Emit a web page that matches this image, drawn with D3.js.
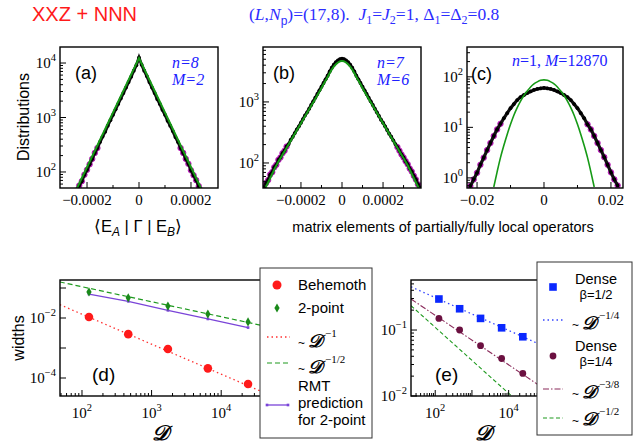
<!DOCTYPE html>
<html><head><meta charset="utf-8">
<script src="https://cdn.jsdelivr.net/npm/d3@7"></script>
<style>body{margin:0;background:#fff}svg{display:block}</style>
</head><body>
<svg id="c" width="641" height="445"></svg>
<script>
// ---------------- DATA ----------------
// panel (a): histogram, bins of width 1e-5 starting at -2.4e-4, log10(counts)
const aBinStart = -0.00024, aBinStep = 0.00001;
const aLogCounts = [1.66,1.75,1.83,1.95,2.04,2.14,2.24,2.35,2.44,2.55,2.65,2.74,2.85,2.95,3.05,3.15,3.25,3.35,3.45,3.55,3.65,3.75,3.86,3.96,
  4.10,3.97,3.86,3.76,3.65,3.55,3.45,3.34,3.25,3.14,3.05,2.94,2.85,2.75,2.64,2.55,2.44,2.35,2.24,2.15,2.03,1.94,1.85,1.74,1.66];
const aFitX = [-0.000245, 0, 0.000245];
const aFitLog = [1.64, 4.09, 1.64];
// panel (b)
const bBinStart = -0.00038, bBinStep = 0.00001;
const bLogCounts = [1.60,1.67,1.72,1.81,1.85,1.93,1.97,2.05,2.09,2.16,2.20,2.27,2.31,2.38,2.43,2.49,2.55,2.60,2.66,2.72,2.78,2.83,2.89,2.95,3.01,3.07,3.13,3.19,3.25,3.31,3.37,3.43,3.50,3.56,3.61,3.65,3.68,3.70,
  3.71,
  3.70,3.68,3.65,3.61,3.56,3.50,3.43,3.37,3.31,3.25,3.19,3.13,3.07,3.01,2.95,2.89,2.83,2.77,2.71,2.66,2.60,2.54,2.48,2.43,2.37,2.31,2.26,2.20,2.14,2.09,2.03,1.98,1.91,1.86,1.79,1.73,1.65,1.59];
const bFitX = [-0.00038,-0.00036,-0.00032,-0.00028,-0.00024,-0.0002,-0.00016,-0.00012,-0.00008,-0.00004,0,0.00004,0.00008,0.00012,0.00016,0.0002,0.00024,0.00028,0.00032,0.00036,0.00038];
const bFitLog = [1.55,1.68,1.96,2.19,2.42,2.65,2.88,3.11,3.35,3.58,3.67,3.58,3.35,3.11,2.88,2.65,2.42,2.19,1.96,1.68,1.55];
// panel (c)
const cBinStart = -0.022, cBinStep = 0.001;
const cLogCounts = [-0.16,-0.03,0.10,0.26,0.40,0.55,0.69,0.83,0.96,1.07,1.18,1.28,1.38,1.46,1.54,1.60,1.64,1.68,1.71,1.74,1.76,1.77,
  1.78,
  1.77,1.76,1.74,1.71,1.68,1.64,1.60,1.54,1.46,1.38,1.28,1.18,1.06,0.96,0.83,0.69,0.55,0.41,0.26,0.11,-0.03,-0.15];
const cFitStart = -0.015, cFitStep = 0.001;
const cFitLog = [-0.18,0.12,0.40,0.64,0.86,1.06,1.24,1.39,1.52,1.63,1.72,1.80,1.86,1.90,1.93,1.94,1.93,1.90,1.86,1.80,1.72,1.63,1.52,1.39,1.24,1.06,0.86,0.64,0.40,0.12,-0.18];
// panel (d)
const dimD = [126, 462, 1716, 6435, 24310];
const behemoth = [0.0108, 0.0029, 0.00093, 0.00021, 0.000063];
const twoPoint = [0.074, 0.047, 0.025, 0.0135, 0.0074];
const rmtPred = [0.063, 0.036, 0.018, 0.0093, 0.0048];
const guideInvD = [[48, 0.0279], [70800, 0.000019]];
const guideInvSqrtD = [[48, 0.159], [70800, 0.00415]];
// panel (e)
const dense12 = [0.295, 0.21, 0.15, 0.108, 0.079];
const dense14 = [0.15, 0.10, 0.058, 0.037, 0.022];
const guideQuarter = [[21.9, 0.452], [100000, 0.0556]];
const guideThreeEighth = [[21.9, 0.295], [100000, 0.0125]];
const guideHalfE = [[21.9, 0.234], [100000, 0.00347]];

// ---------------- DRAW ----------------
const SANS = "'Liberation Sans', Arial, Helvetica, sans-serif";
const SERIF = "'Liberation Serif', 'Times New Roman', serif";
const SD = "\u{1D49F}";
const svg = d3.select('#c');
const defs = svg.append('defs');

function rich(g, x, y, parts, o = {}) {
  const t = g.append('text').attr('x', x).attr('y', y)
    .attr('font-family', o.ff || SANS).attr('font-size', o.fs || 15)
    .attr('fill', o.fill || '#000').attr('text-anchor', o.anchor || 'start');
  if (o.it) t.attr('font-style', 'italic');
  let cur = 0;
  parts.forEach(p => {
    const ts = t.append('tspan').text(p.t);
    const off = p.off || 0;
    if (off !== cur) { ts.attr('dy', off - cur); cur = off; }
    if (p.dx) ts.attr('dx', p.dx);
    if (p.fs) ts.attr('font-size', p.fs);
    if (p.it) ts.attr('font-style', 'italic');
    if (p.nit) ts.attr('font-style', 'normal');
    if (p.fw) ts.attr('font-weight', p.fw);
    if (p.ff) ts.attr('font-family', p.ff);
  });
  return t;
}
function pow10(g, x, y, exp, anchor) {
  return rich(g, x, y, [{t: '10'}, {t: exp, fs: 10.5, off: -7}], {ff: SERIF, fs: 15, anchor});
}
function clip(id, l, t, r, b) {
  defs.append('clipPath').attr('id', id).append('rect').attr('x', l).attr('y', t).attr('width', r - l).attr('height', b - t);
  return `url(#${id})`;
}
function frame(g, o) {
  g.append('rect').attr('x', o.l).attr('y', o.t).attr('width', o.r - o.l).attr('height', o.b - o.t)
    .attr('fill', 'none').attr('stroke', '#000').attr('stroke-width', 1.4);
}
function yLogTicks(g, y, o, labeled, minor) {
  const [lo, hi] = y.domain().map(Math.log10);
  for (let d = Math.floor(lo); d <= Math.ceil(hi); d++) {
    if (d >= lo - 1e-9 && d <= hi + 1e-9) {
      g.append('line').attr('x1', o.l).attr('x2', o.l + 6).attr('y1', y(10 ** d)).attr('y2', y(10 ** d)).attr('stroke', '#000');
      if (labeled.includes(d)) pow10(g, o.l - 4, y(10 ** d) + 5, d < 0 ? '\u2212' + (-d) : String(d), 'end');
    }
    if (minor) for (let m = 2; m <= 9; m++) {
      const v = m * 10 ** d;
      if (Math.log10(v) > lo && Math.log10(v) < hi)
        g.append('line').attr('x1', o.l).attr('x2', o.l + 3).attr('y1', y(v)).attr('y2', y(v)).attr('stroke', '#000');
    }
  }
}

function histPanel(o) {
  const g = svg.append('g');
  const x = d3.scaleLinear().domain(o.xDom).range([o.l, o.r]);
  const y = d3.scaleLog().domain([10 ** o.yLog[0], 10 ** o.yLog[1]]).range([o.b, o.t]);
  const gd = g.append('g').attr('clip-path', clip('cl' + o.id, o.l, o.t, o.r, o.b));
  const pts = o.vals.map((v, i) => ({x: o.start + i * o.step, y: 10 ** v, lv: v}));
  const line = d3.line().x(d => x(d.x)).y(d => y(d.y));
  // magenta markers show up on the noisy tails
  gd.selectAll('circle.m').data(pts.filter(d => d.lv < o.tailBelow)).join('circle').attr('class', 'm')
    .attr('cx', d => x(d.x)).attr('cy', d => y(d.y)).attr('r', 2.8)
    .attr('fill', '#d020d0').attr('stroke', '#a000a0').attr('stroke-width', 0.6);
  gd.append('path').datum(pts).attr('d', line).attr('fill', 'none').attr('stroke', '#111').attr('stroke-width', o.lw);
  gd.selectAll('circle.k').data(pts).join('circle').attr('class', 'k')
    .attr('cx', d => x(d.x)).attr('cy', d => y(d.y)).attr('r', 1.9).attr('fill', '#000');
  const fit = o.fitX.map((v, i) => ({x: v, y: 10 ** o.fitLog[i]}));
  gd.append('path').datum(fit).attr('d', d3.line().x(d => x(d.x)).y(d => y(d.y)).curve(o.curve || d3.curveLinear))
    .attr('fill', 'none').attr('stroke', '#169a16').attr('stroke-width', o.fw);
  frame(g, o);
  yLogTicks(g, y, o, o.yLab, true);
  o.xMajor.forEach((v, i) => {
    g.append('line').attr('x1', x(v)).attr('x2', x(v)).attr('y1', o.b).attr('y2', o.b - 6).attr('stroke', '#000');
    rich(g, x(v), o.b + 17, [{t: o.xLabels[i]}], {ff: SERIF, fs: 15, anchor: 'middle'});
  });
  o.xMinor.forEach(v => g.append('line').attr('x1', x(v)).attr('x2', x(v)).attr('y1', o.b).attr('y2', o.b - 3).attr('stroke', '#000'));
  return g;
}

histPanel({id: 'a', l: 60, t: 47, r: 218, b: 188, xDom: [-0.000304, 0.000304], yLog: [1.706, 4.294],
  start: aBinStart, step: aBinStep, vals: aLogCounts, fitX: aFitX, fitLog: aFitLog, lw: 3, fw: 2, tailBelow: 2.45,
  yLab: [2, 3, 4], xMajor: [-0.0002, 0, 0.0002], xLabels: ['\u22120.0002', '0', '0.0002'], xMinor: [-0.0001, 0.0001]});
histPanel({id: 'b', l: 263, t: 47, r: 421, b: 188, xDom: [-0.000385, 0.000385], yLog: [1.59, 3.90],
  start: bBinStart, step: bBinStep, vals: bLogCounts, fitX: bFitX, fitLog: bFitLog, lw: 3, fw: 2, curve: d3.curveMonotoneX, tailBelow: 2.3,
  yLab: [2, 3], xMajor: [-0.0002, 0, 0.0002], xLabels: ['\u22120.0002', '0', '0.0002'], xMinor: [-0.0003, -0.0001, 0.0001, 0.0003]});
const cFitX = cFitLog.map((v, i) => cFitStart + i * cFitStep);
histPanel({id: 'c', l: 467, t: 47, r: 623, b: 188, xDom: [-0.023, 0.0236], yLog: [-0.2, 2.59],
  start: cBinStart, step: cBinStep, vals: cLogCounts, fitX: cFitX, fitLog: cFitLog, lw: 3.2, fw: 1.6, curve: d3.curveMonotoneX, tailBelow: 1.1,
  yLab: [0, 1, 2], xMajor: [-0.02, 0, 0.02], xLabels: ['\u22120.02', '0', '0.02'], xMinor: [-0.01, 0.01]});

// top titles
rich(svg, 32, 21, [{t: 'XXZ + NNN'}], {fs: 20, fill: '#ff1a1a'});
rich(svg, 249, 20, [
  {t: '('}, {t: 'L', it: 1}, {t: ','}, {t: 'N', it: 1}, {t: 'p', off: 5, fs: 12, ff: SANS}, {t: ')=(17,8).  ', off: 0},
  {t: 'J', it: 1}, {t: '1', off: 4, fs: 12}, {t: '=', off: 0}, {t: 'J', it: 1}, {t: '2', off: 4, fs: 12}, {t: '=1, \u0394', off: 0},
  {t: '1', off: 4, fs: 12}, {t: '=\u0394', off: 0}, {t: '2', off: 4, fs: 12}, {t: '=0.8', off: 0}
], {ff: SERIF, fs: 17.5, fill: '#2d2dff'}).attr('xml:space', 'preserve');

// panel labels
[['(a)', 75, 79], ['(b)', 273, 79], ['(c)', 471, 80]].forEach(([s, x, y]) => rich(svg, x, y, [{t: s}], {fs: 18}));
rich(svg, 172, 68, [{t: 'n=8'}], {ff: SERIF, fs: 16, it: 1, fill: '#2020ff'});
rich(svg, 172, 85, [{t: 'M=2'}], {ff: SERIF, fs: 16, it: 1, fill: '#2020ff'});
rich(svg, 377, 68, [{t: 'n=7'}], {ff: SERIF, fs: 16, it: 1, fill: '#2020ff'});
rich(svg, 377, 85, [{t: 'M=6'}], {ff: SERIF, fs: 16, it: 1, fill: '#2020ff'});
rich(svg, 512, 66, [{t: 'n', it: 1}, {t: '=1, ', nit: 1}, {t: 'M', it: 1}, {t: '=12870', nit: 1}], {ff: SERIF, fs: 16, fill: '#2020ff'});

rich(svg, 0, 0, [{t: 'Distributions'}], {fs: 16, anchor: 'middle'}).attr('transform', 'translate(29,117) rotate(-90)');
rich(svg, 138, 232, [{t: '\u27E8E'}, {t: 'A', it: 1, fs: 12, off: 4}, {t: ' | \u0393 | E', off: 0}, {t: 'B', it: 1, fs: 12, off: 4}, {t: '\u27E9', off: 0}], {fs: 16.5, anchor: 'middle'});
rich(svg, 443, 232, [{t: 'matrix elements of partially/fully local operators'}], {fs: 14.5, anchor: 'middle'});

// ---------- log-log panels ----------
function logPanel(o) {
  const g = svg.append('g');
  const x = d3.scaleLog().domain([10 ** o.xLog[0], 10 ** o.xLog[1]]).range([o.l, o.r]);
  const y = d3.scaleLog().domain([10 ** o.yLog[0], 10 ** o.yLog[1]]).range([o.b, o.t]);
  const gd = g.append('g').attr('clip-path', clip('cl' + o.id, o.l, o.t, o.r, o.b));
  frame(g, o);
  yLogTicks(g, y, o, o.yLab, o.yMinor);
  const [lo, hi] = o.xLog;
  for (let d = Math.floor(lo); d <= Math.ceil(hi); d++) {
    if (d >= lo && d <= hi) {
      g.append('line').attr('x1', x(10 ** d)).attr('x2', x(10 ** d)).attr('y1', o.b).attr('y2', o.b - 6).attr('stroke', '#000');
      if (o.xLab.includes(d)) pow10(g, x(10 ** d), o.b + 22, String(d), 'middle');
    }
    for (let m = 2; m <= 9; m++) {
      const v = m * 10 ** d;
      if (Math.log10(v) > lo && Math.log10(v) < hi)
        g.append('line').attr('x1', x(v)).attr('x2', x(v)).attr('y1', o.b).attr('y2', o.b - 3).attr('stroke', '#000');
    }
  }
  return {g, gd, x, y};
}
function guide(gd, x, y, pts, color, dash, w) {
  gd.append('path').datum(pts).attr('d', d3.line().x(d => x(d[0])).y(d => y(d[1])))
    .attr('fill', 'none').attr('stroke', color).attr('stroke-width', w || 1.2).attr('stroke-dasharray', dash);
}
const sym = (type, size) => d3.symbol().type(type).size(size)();

// panel (d)
const D = logPanel({id: 'd', l: 60, t: 280, r: 280, b: 396, xLog: [1.684, 4.845], yLog: [-4.6, -0.733],
  yLab: [-2, -4], yMinor: false, xLab: [2, 3, 4]});
guide(D.gd, D.x, D.y, guideInvD, '#ff3030', '1.5,3', 1.3);
guide(D.gd, D.x, D.y, guideInvSqrtD, '#1f9a1f', '5,3', 1.2);
D.gd.append('path').datum(dimD.map((d, i) => [d, rmtPred[i]])).attr('d', d3.line().x(d => D.x(d[0])).y(d => D.y(d[1])))
  .attr('fill', 'none').attr('stroke', '#7a44d8').attr('stroke-width', 1.3);
D.gd.selectAll('path.rm').data(dimD).join('path').attr('class', 'rm')
  .attr('transform', (d, i) => `translate(${D.x(d)},${D.y(rmtPred[i])})`).attr('d', sym(d3.symbolSquare, 7)).attr('fill', '#7a44d8');
D.gd.selectAll('path.tp').data(dimD).join('path').attr('class', 'tp')
  .attr('transform', (d, i) => `translate(${D.x(d)},${D.y(twoPoint[i])})`).attr('d', sym(d3.symbolDiamond, 24)).attr('fill', '#1a8a1a');
D.gd.selectAll('circle.bh').data(dimD).join('circle').attr('class', 'bh')
  .attr('cx', d => D.x(d)).attr('cy', (d, i) => D.y(behemoth[i])).attr('r', 4.3).attr('fill', '#ff1a1a');
rich(svg, 92, 381, [{t: '(d)'}], {fs: 19});
rich(svg, 0, 0, [{t: 'widths'}], {fs: 16, anchor: 'middle'}).attr('transform', 'translate(24,338) rotate(-90)');
rich(svg, 160, 440, [{t: SD}], {ff: SERIF, fs: 21, anchor: 'middle'}).attr('font-weight', 'bold').attr('font-style', 'italic');

// panel (e)
const E = logPanel({id: 'e', l: 411, t: 280, r: 545, b: 396, xLog: [1.34, 4.99], yLog: [-2, -0.242],
  yLab: [-1, -2], yMinor: true, xLab: [2, 4]});
guide(E.gd, E.x, E.y, guideQuarter, '#3344ff', '1.5,3', 1.3);
guide(E.gd, E.x, E.y, guideThreeEighth, '#8a2a5a', '6,2,1.5,2', 1.1);
guide(E.gd, E.x, E.y, guideHalfE, '#1f9a1f', '4,2.5', 1.1);
E.gd.selectAll('rect.sq').data(dimD).join('rect').attr('class', 'sq')
  .attr('x', d => E.x(d) - 3.8).attr('y', (d, i) => E.y(dense12[i]) - 3.8).attr('width', 7.6).attr('height', 7.6).attr('fill', '#0a28ff');
E.gd.selectAll('circle.mc').data(dimD).join('circle').attr('class', 'mc')
  .attr('cx', d => E.x(d)).attr('cy', (d, i) => E.y(dense14[i])).attr('r', 3.4).attr('fill', '#6b1040');
rich(svg, 435, 381, [{t: '(e)'}], {fs: 19});
rich(svg, 483, 440, [{t: SD}], {ff: SERIF, fs: 21, anchor: 'middle'}).attr('font-weight', 'bold').attr('font-style', 'italic');

// ---------- legends ----------
function powD(g, x, y, exp) {
  return rich(g, x, y, [{t: '~', fs: 12, ff: SANS}, {t: SD, fs: 18, fw: 'bold', it: 1, dx: 3}, {t: exp, fs: 11, off: -10, dx: 3}], {ff: SERIF, fs: 15});
}
const L1 = svg.append('g');
L1.append('rect').attr('x', 260).attr('y', 268).attr('width', 112).attr('height', 170).attr('fill', '#fff').attr('stroke', '#333').attr('stroke-width', 1);
L1.append('circle').attr('cx', 277).attr('cy', 285).attr('r', 4.5).attr('fill', '#ff1a1a');
rich(L1, 298, 290, [{t: 'Behemoth'}], {fs: 15});
L1.append('path').attr('transform', 'translate(277,308)').attr('d', sym(d3.symbolDiamond, 24)).attr('fill', '#1a8a1a');
rich(L1, 298, 313, [{t: '2-point'}], {fs: 15});
L1.append('line').attr('x1', 267).attr('x2', 290).attr('y1', 337).attr('y2', 337).attr('stroke', '#ff3030').attr('stroke-width', 1.3).attr('stroke-dasharray', '1.5,3');
powD(L1, 298, 347, '\u22121');
L1.append('line').attr('x1', 267).attr('x2', 290).attr('y1', 363).attr('y2', 363).attr('stroke', '#1f9a1f').attr('stroke-width', 1.2).attr('stroke-dasharray', '5,3');
powD(L1, 298, 373, '\u22121/2');
rich(L1, 298, 391, [{t: 'RMT'}], {fs: 15});
rich(L1, 298, 408, [{t: 'prediction'}], {fs: 15});
rich(L1, 298, 425, [{t: 'for 2-point'}], {fs: 15});
L1.append('line').attr('x1', 267).attr('x2', 288).attr('y1', 405).attr('y2', 405).attr('stroke', '#7a44d8').attr('stroke-width', 1.3);
[267, 288].forEach(v => L1.append('path').attr('transform', `translate(${v},405)`).attr('d', sym(d3.symbolSquare, 7)).attr('fill', '#7a44d8'));

const L2 = svg.append('g');
L2.append('rect').attr('x', 537).attr('y', 262).attr('width', 95).attr('height', 173).attr('fill', '#fff').attr('stroke', '#333').attr('stroke-width', 1);
L2.append('rect').attr('x', 549.2).attr('y', 283.2).attr('width', 7.6).attr('height', 7.6).attr('fill', '#0a28ff');
rich(L2, 596, 284, [{t: 'Dense'}], {fs: 14.5, anchor: 'middle'});
rich(L2, 596, 299, [{t: '\u03B2=1/2'}], {fs: 13, anchor: 'middle'});
L2.append('line').attr('x1', 543).attr('x2', 563).attr('y1', 320).attr('y2', 320).attr('stroke', '#3344ff').attr('stroke-width', 1.3).attr('stroke-dasharray', '1.5,3');
powD(L2, 572, 329, '\u22121/4');
L2.append('circle').attr('cx', 553).attr('cy', 356).attr('r', 3.4).attr('fill', '#6b1040');
rich(L2, 596, 351, [{t: 'Dense'}], {fs: 14.5, anchor: 'middle'});
rich(L2, 596, 366, [{t: '\u03B2=1/4'}], {fs: 13, anchor: 'middle'});
L2.append('line').attr('x1', 543).attr('x2', 563).attr('y1', 389).attr('y2', 389).attr('stroke', '#8a2a5a').attr('stroke-width', 1.1).attr('stroke-dasharray', '6,2,1.5,2');
powD(L2, 572, 398, '\u22123/8');
L2.append('line').attr('x1', 543).attr('x2', 563).attr('y1', 418).attr('y2', 418).attr('stroke', '#1f9a1f').attr('stroke-width', 1.1).attr('stroke-dasharray', '4,2.5');
powD(L2, 572, 425, '\u22121/2');
</script>
</body></html>
